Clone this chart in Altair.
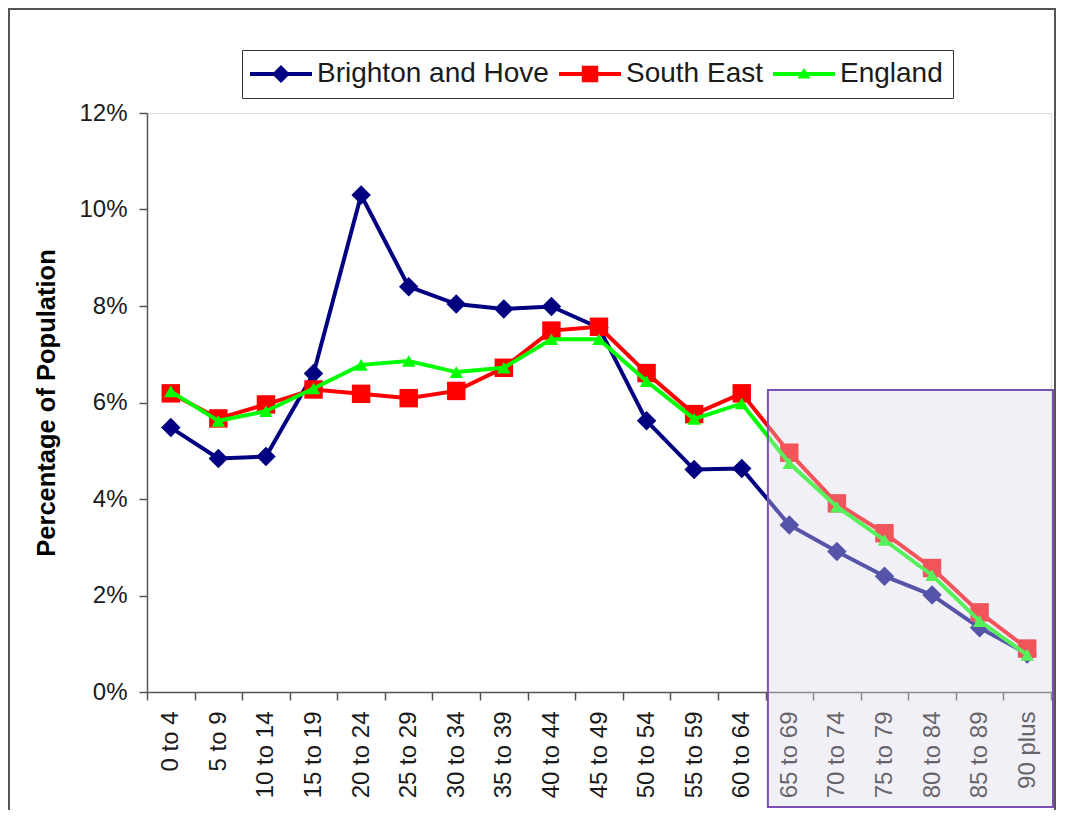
import altair as alt
import pandas as pd

ages = ["0 to 4", "5 to 9", "10 to 14", "15 to 19", "20 to 24", "25 to 29",
        "30 to 34", "35 to 39", "40 to 44", "45 to 49", "50 to 54", "55 to 59",
        "60 to 64", "65 to 69", "70 to 74", "75 to 79", "80 to 84", "85 to 89",
        "90 plus"]
series = ["Brighton and Hove", "South East", "England"]
colors = ["#000080", "#ff0000", "#00ff00"]
shapes = ["diamond", "square", "triangle-up"]
sizes = [380, 340, 180]

brighton = [5.48, 4.84, 4.88, 6.60, 10.30, 8.40, 8.04, 7.94, 7.99, 7.55,
            5.62, 4.61, 4.63, 3.46, 2.91, 2.40, 2.01, 1.33, 0.79]
south_east = [6.19, 5.67, 5.96, 6.27, 6.18, 6.09, 6.24, 6.72, 7.49, 7.57,
              6.61, 5.76, 6.19, 4.96, 3.91, 3.29, 2.57, 1.65, 0.90]
england = [6.23, 5.62, 5.82, 6.29, 6.78, 6.86, 6.63, 6.72, 7.31, 7.31,
           6.44, 5.66, 5.98, 4.74, 3.84, 3.15, 2.42, 1.47, 0.77]

values = [brighton, south_east, england]
y_ticks = [0, 2, 4, 6, 8, 10, 12]

# highlighted region (older ages)
highlight_start = "65 to 69"
highlight_top = 6.26

W, H = 904, 579
FONT = "Liberation Sans"

rows = []
for s, vals in zip(series, values):
    for a, v in zip(ages, vals):
        rows.append({"age": a, "series": s, "value": v})
df = pd.DataFrame(rows)

x_scale = alt.Scale(type="band", domain=ages, paddingInner=0, paddingOuter=0)
x_enc = alt.X("age:N", sort=ages, scale=x_scale,
              axis=alt.Axis(title=None, labelAngle=270, labelAlign="right",
                            labelBaseline="middle", labelFontSize=24, labelFont=FONT,
                            labelColor="#1a1a1a", labelPadding=11, tickBand="extent",
                            tickSize=8, tickColor="#555555", tickWidth=1.5,
                            domainColor="#555555", domainWidth=1.5, grid=False))
y_enc = alt.Y("value:Q",
              scale=alt.Scale(domain=[0, 12], nice=False, zero=True),
              axis=alt.Axis(title="Percentage of Population", values=y_ticks,
                            labelExpr="datum.value + '%'", labelFontSize=24,
                            labelFont=FONT, labelColor="#1a1a1a", labelPadding=12,
                            tickSize=8, tickColor="#555555", tickWidth=1.5,
                            domainColor="#555555", domainWidth=1.5, grid=False,
                            titleFont=FONT, titleFontSize=25.5, titleFontWeight="bold",
                            titleColor="#000000", titlePadding=19))

# legend symbols: a line segment with the series marker.
# symbol size 20px -> one path unit = 10px; path spans 62px horizontally
line_part = "M-3.1,-0.2L3.1,-0.2L3.1,0.2L-3.1,0.2Z"
legend_paths = [
    line_part + "M0,-0.9L0.9,0L0,0.9L-0.9,0Z",
    line_part + "M-0.82,-0.82L0.82,-0.82L0.82,0.82L-0.82,0.82Z",
    line_part + "M0,-0.6L0.65,0.45L-0.65,0.45Z",
]
shape_expr = "[" + ",".join("'" + p + "'" for p in legend_paths) + "][indexof([" + \
    ",".join("'" + s + "'" for s in series) + "], datum.value)]"

legend = alt.Legend(
    title=None, orient="none", direction="horizontal", legendX=95, legendY=-63,
    labelFontSize=28, labelFont=FONT, labelColor="#1a1a1a", labelOffset=22,
    symbolSize=400, symbolOffset=15, columnPadding=10, padding=10,
    strokeColor="#333333", fillColor="#ffffff", labelLimit=400, symbolOpacity=1,
    symbolStrokeWidth=0, symbolType=alt.ExprRef(expr=shape_expr),
)

color_scale = alt.Scale(domain=series, range=colors)

layers = []

# outer figure frame
frame = alt.Chart(pd.DataFrame({"f": [0]})).mark_rect(
    fill="transparent", stroke="#555555", strokeWidth=2
).encode(x=alt.value(-138), x2=alt.value(908), y=alt.value(-104), y2=alt.value(740))
layers.append(frame)

# invisible layer that only carries the legend
legend_layer = alt.Chart(df).mark_point(filled=True, opacity=0, size=1).encode(
    x=x_enc, y=y_enc,
    color=alt.Color("series:N", sort=series, scale=color_scale, legend=legend))
layers.append(legend_layer)

for s, col, shp, sz in zip(series, colors, shapes, sizes):
    base = alt.Chart(df).transform_filter(alt.datum.series == s)
    ln = base.mark_line(strokeWidth=4, color=col).encode(x=x_enc, y=y_enc)
    pt = base.mark_point(shape=shp, filled=True, size=sz, opacity=1, color=col).encode(
        x=x_enc, y=y_enc)
    layers += [ln, pt]

hl = alt.Chart(pd.DataFrame({"age": [highlight_start], "value": [highlight_top]})).mark_rect(
    fill="#ddd8ea", fillOpacity=0.39, stroke="#7d50b5", strokeWidth=2
).encode(
    x=alt.X("age:N", sort=ages, bandPosition=0.05, scale=x_scale),
    x2=alt.value(906), y=alt.Y("value:Q"), y2=alt.value(694))
layers.append(hl)

chart = alt.layer(*layers).properties(
    width=W, height=H,
    autosize=alt.AutoSizeParams(type="none"),
    padding={"left": 139, "top": 105, "right": 6, "bottom": 118},
).configure_view(stroke=None).configure(background="#ffffff")

chart.save("out.html", embed_options={"renderer": "svg", "actions": False})
